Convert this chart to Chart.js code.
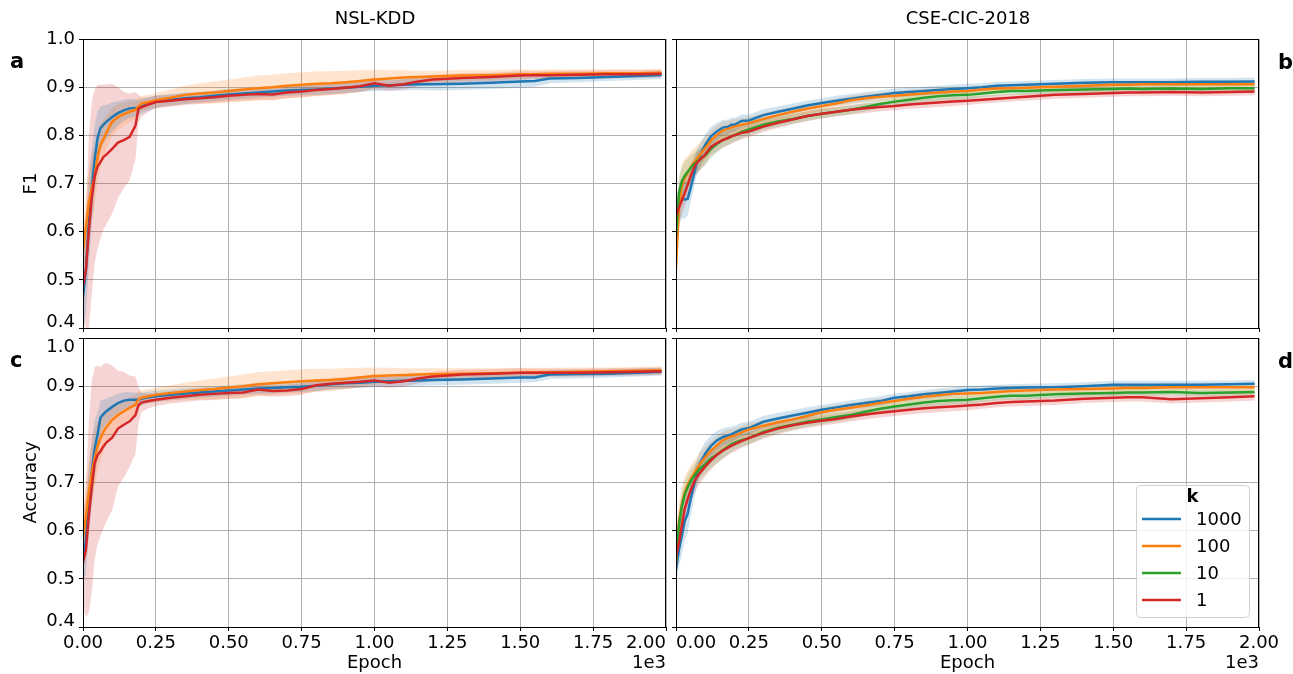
<!DOCTYPE html>
<html>
<head>
    <title>k sweep: F1 and accuracy per epoch</title>
    <script src="https://cdn.jsdelivr.net/npm/chart.js"></script>
    <style>
        body { margin: 0; background: #fff; font-family: 'DejaVu Sans', sans-serif; }
        #fig { position: relative; width: 1293px; height: 674px; overflow: hidden; }
        #fig canvas { position: absolute; }
        .head { position: absolute; font-size: 18px; line-height: 20px; text-align: center; width: 300px; }
        .tag { position: absolute; font-size: 21px; font-weight: bold; line-height: 24px; }
    </style>
</head>
<body>
<div id="fig">
    <canvas id="panelA" width="675" height="345" style="left:0;top:0"></canvas>
    <canvas id="panelB" width="625" height="345" style="left:668px;top:0"></canvas>
    <canvas id="panelC" width="675" height="352" style="left:0;top:322px"></canvas>
    <canvas id="panelD" width="625" height="352" style="left:668px;top:322px"></canvas>
    <div class="head" style="left:225px;top:8px">NSL-KDD</div>
    <div class="head" style="left:818px;top:8px">CSE-CIC-2018</div>
    <div class="tag" style="left:10px;top:49px">a</div>
    <div class="tag" style="left:1278px;top:50px">b</div>
    <div class="tag" style="left:10px;top:348px">c</div>
    <div class="tag" style="left:1278px;top:349px">d</div>
</div>

<script>
    // epochs at which the runs were sampled
    const epochs = [
        0, 10, 20, 30, 40, 50, 60, 70, 80,
        100, 120, 140, 160, 180, 190, 200,
        225, 250,
        300, 350, 400, 450, 500, 550, 600, 650, 700, 750, 800, 850, 900, 950, 1000,
        1050, 1100, 1150, 1200,
        1300, 1400, 1500, 1550, 1600, 1700, 1800, 1900, 1985
    ];
    const kValues = ['1000', '100', '10', '1'];
    const xTicks = [0, 250, 500, 750, 1000, 1250, 1500, 1750, 2000];
    const yTicks = [0.4, 0.5, 0.6, 0.7, 0.8, 0.9, 1.0];

    // ---- NSL-KDD, F1 ----
    const f1Nsl1000 = [
        0.465, 0.52, 0.62, 0.69, 0.75, 0.795, 0.815, 0.822, 0.828,
        0.838, 0.846, 0.852, 0.856, 0.857, 0.857, 0.860,
        0.865, 0.870,
        0.874, 0.877, 0.879, 0.882, 0.885, 0.887, 0.889, 0.891, 0.893, 0.894, 0.895, 0.897, 0.899, 0.901, 0.903,
        0.904, 0.905, 0.906, 0.906,
        0.907, 0.909, 0.912, 0.913, 0.918, 0.919, 0.921, 0.923, 0.925
    ];
    const f1Nsl1000Sd = [
        0.08, 0.09, 0.09, 0.08, 0.07, 0.055, 0.045, 0.04, 0.035,
        0.03, 0.025, 0.022, 0.02, 0.018, 0.016, 0.015,
        0.014, 0.013,
        0.012, 0.012, 0.011, 0.011, 0.011, 0.011, 0.011, 0.011, 0.011, 0.011, 0.011, 0.011, 0.011, 0.011, 0.011,
        0.011, 0.012, 0.012, 0.013,
        0.013, 0.013, 0.013, 0.012, 0.01, 0.009, 0.008, 0.008, 0.008
    ];
    const f1Nsl100 = [
        0.56, 0.61, 0.66, 0.69, 0.715, 0.755, 0.78, 0.792, 0.805,
        0.828, 0.838, 0.844, 0.849, 0.853, 0.860, 0.866,
        0.869, 0.873,
        0.878, 0.884, 0.887, 0.889, 0.892, 0.895, 0.898, 0.900, 0.903, 0.905, 0.907, 0.908, 0.910, 0.913, 0.916,
        0.918, 0.920, 0.921, 0.922,
        0.924, 0.925, 0.927, 0.927, 0.928, 0.928, 0.929, 0.929, 0.930
    ];
    const f1Nsl100Sd = [
        0.05, 0.06, 0.07, 0.07, 0.06, 0.05, 0.045, 0.04, 0.035,
        0.03, 0.027, 0.024, 0.022, 0.02, 0.018, 0.016,
        0.015, 0.015,
        0.017, 0.019, 0.021, 0.023, 0.024, 0.025, 0.026, 0.026, 0.026, 0.026, 0.026, 0.025, 0.024, 0.022, 0.02,
        0.017, 0.015, 0.013, 0.012,
        0.011, 0.01, 0.01, 0.009, 0.009, 0.009, 0.008, 0.008, 0.008
    ];
    const f1Nsl1 = [
        0.487, 0.52, 0.60, 0.67, 0.715, 0.735, 0.745, 0.755, 0.76,
        0.772, 0.785, 0.79, 0.797, 0.82, 0.855, 0.858,
        0.864, 0.869,
        0.872, 0.875, 0.877, 0.879, 0.882, 0.884, 0.886, 0.885, 0.889, 0.891, 0.894, 0.896, 0.899, 0.902, 0.908,
        0.903, 0.906, 0.912, 0.916,
        0.919, 0.921, 0.924, 0.925, 0.925, 0.926, 0.927, 0.927, 0.928
    ];
    const f1Nsl1Sd = [
        0.07, 0.12, 0.2, 0.2, 0.18, 0.17, 0.16, 0.15, 0.145,
        0.135, 0.115, 0.1, 0.09, 0.07, 0.03, 0.02,
        0.015, 0.013,
        0.012, 0.012, 0.012, 0.012, 0.012, 0.012, 0.012, 0.012, 0.012, 0.012, 0.012, 0.012, 0.012, 0.012, 0.012,
        0.011, 0.011, 0.01, 0.01,
        0.01, 0.009, 0.009, 0.008, 0.008, 0.008, 0.008, 0.008, 0.008
    ];

    // ---- NSL-KDD, accuracy ----
    const accNsl1000 = [
        0.54, 0.58, 0.66, 0.72, 0.77, 0.80, 0.835, 0.842, 0.848,
        0.857, 0.865, 0.870, 0.872, 0.872, 0.872, 0.874,
        0.877, 0.879,
        0.882, 0.885, 0.887, 0.889, 0.891, 0.893, 0.895, 0.896, 0.898, 0.899, 0.901, 0.904, 0.906, 0.907, 0.909,
        0.910, 0.911, 0.912, 0.913,
        0.914, 0.916, 0.918, 0.918, 0.924, 0.925, 0.926, 0.928, 0.930
    ];
    const accNsl1000Sd = [
        0.05, 0.07, 0.07, 0.07, 0.06, 0.045, 0.035, 0.03, 0.027,
        0.022, 0.02, 0.018, 0.016, 0.015, 0.014, 0.013,
        0.012, 0.012,
        0.011, 0.011, 0.011, 0.011, 0.011, 0.011, 0.011, 0.011, 0.011, 0.011, 0.011, 0.011, 0.011, 0.011, 0.011,
        0.011, 0.011, 0.011, 0.011,
        0.011, 0.011, 0.011, 0.01, 0.009, 0.009, 0.008, 0.008, 0.008
    ];
    const accNsl100 = [
        0.585, 0.63, 0.68, 0.72, 0.75, 0.775, 0.792, 0.805, 0.815,
        0.83, 0.84, 0.848, 0.855, 0.862, 0.872, 0.876,
        0.879, 0.882,
        0.886, 0.889, 0.892, 0.894, 0.897, 0.900, 0.904, 0.906, 0.908, 0.910, 0.912, 0.913, 0.915, 0.918, 0.921,
        0.922, 0.923, 0.924, 0.925,
        0.926, 0.927, 0.928, 0.929, 0.929, 0.930, 0.931, 0.932, 0.933
    ];
    const accNsl100Sd = [
        0.05, 0.06, 0.065, 0.065, 0.06, 0.05, 0.045, 0.04, 0.035,
        0.03, 0.027, 0.024, 0.022, 0.02, 0.018, 0.016,
        0.015, 0.015,
        0.016, 0.018, 0.02, 0.022, 0.023, 0.024, 0.025, 0.025, 0.025, 0.025, 0.024, 0.023, 0.022, 0.02, 0.018,
        0.016, 0.014, 0.013, 0.012,
        0.011, 0.01, 0.01, 0.009, 0.009, 0.009, 0.008, 0.008, 0.008
    ];
    const accNsl1 = [
        0.533, 0.56, 0.63, 0.69, 0.74, 0.757, 0.765, 0.775, 0.783,
        0.793, 0.812, 0.82, 0.827, 0.84, 0.86, 0.866,
        0.869, 0.872,
        0.876, 0.879, 0.882, 0.884, 0.886, 0.887, 0.893, 0.890, 0.891, 0.894, 0.902, 0.905, 0.907, 0.909, 0.912,
        0.907, 0.910, 0.916, 0.920,
        0.924, 0.926, 0.928, 0.928, 0.928, 0.928, 0.929, 0.930, 0.931
    ];
    const accNsl1Sd = [
        0.09, 0.14, 0.2, 0.22, 0.2, 0.185, 0.175, 0.17, 0.165,
        0.15, 0.12, 0.11, 0.095, 0.08, 0.04, 0.02,
        0.015, 0.013,
        0.012, 0.012, 0.012, 0.012, 0.012, 0.012, 0.012, 0.012, 0.012, 0.012, 0.012, 0.012, 0.012, 0.012, 0.012,
        0.011, 0.011, 0.01, 0.01,
        0.01, 0.009, 0.009, 0.008, 0.008, 0.008, 0.008, 0.008, 0.008
    ];

    // ---- CSE-CIC-2018, F1 ----
    const f1Cse1000 = [
        0.62, 0.655, 0.668, 0.667, 0.668, 0.69, 0.715, 0.74, 0.755,
        0.78, 0.798, 0.808, 0.816, 0.818, 0.822, 0.822,
        0.83, 0.831,
        0.842, 0.849, 0.855, 0.862, 0.867, 0.872, 0.876, 0.880, 0.884, 0.888, 0.890, 0.892, 0.894, 0.896, 0.898,
        0.900, 0.903, 0.904, 0.905,
        0.907, 0.909, 0.910, 0.910, 0.910, 0.910, 0.911, 0.911, 0.912
    ];
    const f1Cse1000Sd = [
        0.04, 0.04, 0.04, 0.04, 0.035, 0.03, 0.028, 0.026, 0.025,
        0.022, 0.02, 0.018, 0.016, 0.015, 0.015, 0.014,
        0.013, 0.012,
        0.012, 0.011, 0.011, 0.01, 0.01, 0.01, 0.01, 0.01, 0.009, 0.009, 0.009, 0.009, 0.009, 0.009, 0.009,
        0.008, 0.008, 0.008, 0.008,
        0.008, 0.008, 0.008, 0.008, 0.008, 0.008, 0.008, 0.008, 0.008
    ];
    const f1Cse100 = [
        0.525, 0.65, 0.695, 0.712, 0.722, 0.733, 0.742, 0.75, 0.758,
        0.773, 0.789, 0.801, 0.81, 0.814, 0.816, 0.818,
        0.822, 0.825,
        0.834, 0.842, 0.849, 0.855, 0.861, 0.866, 0.873, 0.877, 0.880, 0.882, 0.885, 0.887, 0.889, 0.891, 0.892,
        0.895, 0.897, 0.898, 0.899,
        0.901, 0.903, 0.905, 0.905, 0.906, 0.906, 0.906, 0.906, 0.906
    ];
    const f1Cse100Sd = [
        0.05, 0.05, 0.045, 0.04, 0.035, 0.033, 0.03, 0.028, 0.026,
        0.024, 0.022, 0.02, 0.018, 0.017, 0.016, 0.015,
        0.014, 0.013,
        0.012, 0.011, 0.011, 0.01, 0.01, 0.01, 0.009, 0.009, 0.009, 0.009, 0.009, 0.009, 0.009, 0.009, 0.009,
        0.008, 0.008, 0.008, 0.008,
        0.008, 0.008, 0.008, 0.008, 0.008, 0.008, 0.008, 0.008, 0.008
    ];
    const f1Cse10 = [
        0.59, 0.68, 0.705, 0.716, 0.724, 0.732, 0.739, 0.745, 0.75,
        0.758, 0.772, 0.782, 0.79, 0.795, 0.798, 0.80,
        0.807, 0.812,
        0.822, 0.829, 0.834, 0.84, 0.845, 0.849, 0.853, 0.859, 0.865, 0.870, 0.874, 0.878, 0.881, 0.883, 0.884,
        0.887, 0.890, 0.892, 0.892,
        0.894, 0.895, 0.896, 0.897, 0.896, 0.897, 0.896, 0.898, 0.898
    ];
    const f1Cse10Sd = [
        0.035, 0.035, 0.03, 0.03, 0.028, 0.026, 0.025, 0.024, 0.023,
        0.02, 0.019, 0.018, 0.016, 0.015, 0.015, 0.014,
        0.013, 0.012,
        0.011, 0.011, 0.01, 0.01, 0.01, 0.009, 0.009, 0.009, 0.009, 0.009, 0.009, 0.009, 0.009, 0.009, 0.009,
        0.008, 0.008, 0.008, 0.008,
        0.007, 0.007, 0.007, 0.007, 0.007, 0.007, 0.007, 0.007, 0.007
    ];
    const f1Cse1 = [
        0.632, 0.65, 0.665, 0.68, 0.697, 0.715, 0.73, 0.742, 0.748,
        0.76, 0.776, 0.784, 0.79, 0.795, 0.798, 0.80,
        0.805, 0.808,
        0.818, 0.826, 0.833, 0.84, 0.845, 0.849, 0.853, 0.856, 0.859, 0.861, 0.864, 0.866, 0.868, 0.870, 0.872,
        0.874, 0.876, 0.878, 0.880,
        0.884, 0.886, 0.888, 0.889, 0.889, 0.890, 0.889, 0.890, 0.891
    ];
    const f1Cse1Sd = [
        0.03, 0.03, 0.03, 0.028, 0.026, 0.025, 0.024, 0.023, 0.022,
        0.02, 0.018, 0.017, 0.016, 0.015, 0.015, 0.014,
        0.013, 0.012,
        0.011, 0.011, 0.01, 0.01, 0.01, 0.01, 0.01, 0.01, 0.009, 0.009, 0.009, 0.009, 0.009, 0.009, 0.009,
        0.008, 0.008, 0.008, 0.008,
        0.008, 0.008, 0.008, 0.008, 0.008, 0.008, 0.008, 0.008, 0.008
    ];

    // ---- CSE-CIC-2018, accuracy ----
    const accCse1000 = [
        0.518, 0.56, 0.59, 0.62, 0.635, 0.665, 0.69, 0.715, 0.737,
        0.76, 0.776, 0.787, 0.794, 0.798, 0.80, 0.803,
        0.81, 0.813,
        0.826, 0.833, 0.839, 0.845, 0.851, 0.856, 0.861, 0.865, 0.869, 0.876, 0.879, 0.883, 0.886, 0.889, 0.892,
        0.893, 0.895, 0.896, 0.897,
        0.898, 0.900, 0.903, 0.903, 0.903, 0.903, 0.903, 0.904, 0.905
    ];
    const accCse1000Sd = [
        0.03, 0.035, 0.04, 0.04, 0.04, 0.035, 0.03, 0.028, 0.026,
        0.024, 0.022, 0.02, 0.018, 0.017, 0.016, 0.015,
        0.014, 0.013,
        0.012, 0.012, 0.011, 0.011, 0.01, 0.01, 0.01, 0.01, 0.01, 0.009, 0.009, 0.009, 0.009, 0.009, 0.009,
        0.008, 0.008, 0.008, 0.008,
        0.008, 0.008, 0.008, 0.008, 0.008, 0.008, 0.008, 0.008, 0.008
    ];
    const accCse100 = [
        0.532, 0.62, 0.655, 0.68, 0.695, 0.707, 0.717, 0.727, 0.737,
        0.752, 0.766, 0.777, 0.787, 0.793, 0.795, 0.797,
        0.804, 0.81,
        0.818, 0.825, 0.831, 0.838, 0.846, 0.851, 0.855, 0.860, 0.865, 0.869, 0.874, 0.878, 0.881, 0.884, 0.885,
        0.886, 0.888, 0.890, 0.891,
        0.893, 0.894, 0.895, 0.896, 0.896, 0.898, 0.898, 0.898, 0.898
    ];
    const accCse100Sd = [
        0.04, 0.04, 0.035, 0.032, 0.03, 0.028, 0.026, 0.025, 0.024,
        0.022, 0.02, 0.019, 0.018, 0.017, 0.016, 0.015,
        0.014, 0.013,
        0.012, 0.011, 0.011, 0.01, 0.01, 0.01, 0.01, 0.009, 0.009, 0.009, 0.009, 0.009, 0.009, 0.009, 0.009,
        0.008, 0.008, 0.008, 0.008,
        0.008, 0.008, 0.008, 0.008, 0.008, 0.008, 0.008, 0.008, 0.008
    ];
    const accCse10 = [
        0.539, 0.61, 0.65, 0.675, 0.69, 0.702, 0.712, 0.72, 0.727,
        0.738, 0.75, 0.758, 0.767, 0.775, 0.779, 0.782,
        0.788, 0.792,
        0.805, 0.814, 0.82, 0.826, 0.831, 0.836, 0.84, 0.847, 0.853, 0.858, 0.862, 0.866, 0.869, 0.871, 0.872,
        0.875, 0.878, 0.880, 0.880,
        0.883, 0.885, 0.886, 0.887, 0.887, 0.888, 0.886, 0.887, 0.888
    ];
    const accCse10Sd = [
        0.03, 0.03, 0.03, 0.028, 0.026, 0.025, 0.024, 0.023, 0.022,
        0.02, 0.019, 0.018, 0.017, 0.016, 0.015, 0.015,
        0.014, 0.013,
        0.012, 0.011, 0.011, 0.01, 0.01, 0.01, 0.009, 0.009, 0.009, 0.009, 0.009, 0.009, 0.009, 0.009, 0.009,
        0.008, 0.008, 0.008, 0.008,
        0.007, 0.007, 0.007, 0.007, 0.007, 0.007, 0.007, 0.007, 0.007
    ];
    const accCse1 = [
        0.546, 0.575, 0.61, 0.645, 0.665, 0.683, 0.698, 0.71, 0.718,
        0.733, 0.746, 0.757, 0.766, 0.773, 0.776, 0.779,
        0.786, 0.792,
        0.803, 0.812, 0.819, 0.824, 0.828, 0.832, 0.837, 0.841, 0.845, 0.848, 0.851, 0.854, 0.856, 0.858, 0.860,
        0.862, 0.865, 0.867, 0.868,
        0.870, 0.874, 0.876, 0.877, 0.877, 0.873, 0.875, 0.877, 0.879
    ];
    const accCse1Sd = [
        0.03, 0.03, 0.03, 0.028, 0.026, 0.025, 0.024, 0.023, 0.022,
        0.02, 0.019, 0.018, 0.017, 0.016, 0.015, 0.015,
        0.014, 0.013,
        0.012, 0.012, 0.011, 0.011, 0.01, 0.01, 0.01, 0.01, 0.01, 0.01, 0.01, 0.01, 0.01, 0.01, 0.01,
        0.009, 0.009, 0.009, 0.009,
        0.009, 0.009, 0.009, 0.009, 0.009, 0.009, 0.009, 0.009, 0.009
    ];

    // tab10 colours, one per k
    const lineColor = { '1000': '#1f77b4', '100': '#ff7f0e', '10': '#2ca02c', '1': '#d62728' };
    const bandColor = {
        '1000': 'rgba(31,119,180,0.2)', '100': 'rgba(255,127,14,0.2)',
        '10': 'rgba(44,160,44,0.2)', '1': 'rgba(214,39,40,0.2)'
    };
    const lineOrder = { '1000': 4, '100': 3, '10': 2, '1': 1 };

    const FONT = "18px 'DejaVu Sans'";
    Chart.defaults.font.family = "'DejaVu Sans', sans-serif";
    Chart.defaults.font.size = 18;
    Chart.defaults.color = '#000';

    const fmtX = v => (v / 1000).toFixed(2);
    const fmtY = v => v.toFixed(1);

    // mean line plus a +/- one std band filled between two invisible lines
    function runDatasets(k, mean, sd) {
        const pts = (f) => epochs.map((x, i) => ({ x: x, y: f(i) }));
        const hidden = { borderWidth: 0, borderColor: 'transparent', pointRadius: 0, order: 10 };
        return [
            Object.assign({ data: pts(i => mean[i] + sd[i]), fill: '+1', backgroundColor: bandColor[k] }, hidden),
            Object.assign({ data: pts(i => mean[i] - sd[i]), fill: false }, hidden),
            {
                label: k, data: pts(i => mean[i]), fill: false, pointRadius: 0,
                borderColor: lineColor[k], borderWidth: 2.5, tension: 0, order: lineOrder[k]
            }
        ];
    }

    const frame = {
        id: 'frame',
        afterDatasetsDraw(chart) {
            const { ctx, chartArea: a } = chart;
            ctx.save();
            ctx.strokeStyle = '#000';
            ctx.lineWidth = 1;
            ctx.strokeRect(Math.round(a.left) + 0.5, Math.round(a.top) + 0.5,
                Math.round(a.right - a.left) - 1, Math.round(a.bottom - a.top));
            ctx.restore();
        }
    };

    const offsetText = {
        id: 'offsetText',
        afterDraw(chart) {
            const { ctx, chartArea: a } = chart;
            ctx.save();
            ctx.font = FONT;
            ctx.fillStyle = '#000';
            ctx.textAlign = 'right';
            ctx.textBaseline = 'middle';
            ctx.fillText('1e3', a.right, a.bottom + 36);
            ctx.restore();
        }
    };

    // tick labels at the panel edges are nudged inward so neighbouring panels don't collide
    function edgeLabels(edges) {
        return {
            id: 'edgeLabels',
            afterDraw(chart) {
                const { ctx, chartArea: a } = chart;
                ctx.save();
                ctx.font = FONT;
                ctx.fillStyle = '#000';
                edges.forEach(e => {
                    const scale = chart.scales[e.axis];
                    const p = scale.getPixelForValue(e.value);
                    if (e.axis === 'y') {
                        ctx.textAlign = 'right';
                        ctx.textBaseline = 'alphabetic';
                        ctx.fillText(fmtY(e.value), a.left - 8, e.place === 'above' ? p - 1 : p + 13.5);
                    } else {
                        let y = a.bottom + 6, base = 'top';
                        const items = scale.getLabelItems ? scale.getLabelItems() : [];
                        const ref = items.find(it => it.label && it.label !== '');
                        if (ref) { y = ref.options.translation[1]; base = ref.options.textBaseline; }
                        ctx.textAlign = e.place === 'left' ? 'right' : 'left';
                        ctx.textBaseline = base;
                        ctx.fillText(fmtX(e.value), p, y + (ref ? ref.textOffset : 0));
                    }
                });
                ctx.restore();
            }
        };
    }

    const kLegend = {
        id: 'kLegend',
        afterDraw(chart) {
            const { ctx, chartArea: a } = chart;
            const w = 113, h = 132;
            const x0 = Math.round(a.right) - 10 - w, y0 = Math.round(a.bottom) - 10 - h;
            ctx.save();
            ctx.beginPath();
            ctx.roundRect(x0 + 0.5, y0 + 0.5, w, h, 4);
            ctx.fillStyle = 'rgba(255,255,255,0.8)';
            ctx.fill();
            ctx.strokeStyle = '#d0d0d0';
            ctx.lineWidth = 1;
            ctx.stroke();

            ctx.fillStyle = '#000';
            ctx.textBaseline = 'middle';
            ctx.textAlign = 'center';
            ctx.font = "bold " + FONT;
            ctx.fillText('k', x0 + w / 2, y0 + 12);

            ctx.textAlign = 'left';
            ctx.font = FONT;
            chart.data.datasets.filter(d => d.label).forEach((d, i) => {
                const y = y0 + 34 + 27 * i;
                ctx.beginPath();
                ctx.moveTo(x0 + 6, y);
                ctx.lineTo(x0 + 45, y);
                ctx.strokeStyle = d.borderColor;
                ctx.lineWidth = 2.5;
                ctx.stroke();
                ctx.fillText(d.label, x0 + 60, y + 1);
            });
            ctx.restore();
        }
    };

    // keep every plot area the same size: no extra room for overhanging tick labels
    function noOverhang(s) {
        s.paddingLeft = 0;
        s.paddingRight = 0;
        s.paddingTop = 0;
        s.paddingBottom = 0;
    }

    function makePanel(id, runs, cfg) {
        const datasets = [];
        runs.forEach(r => datasets.push(...runDatasets(r[0], r[1], r[2])));
        const edges = cfg.edges || [];
        const isEdge = (axis, v) => edges.some(e => e.axis === axis && Math.abs(e.value - v) < 1e-9);
        const plugins = [frame, edgeLabels(edges)];
        if (cfg.bottom) plugins.push(offsetText);
        if (cfg.legend) plugins.push(kLegend);

        return new Chart(document.getElementById(id), {
            type: 'line',
            data: { datasets: datasets },
            options: {
                responsive: false,
                animation: false,
                events: [],
                layout: { padding: cfg.padding },
                plugins: { legend: { display: false }, tooltip: { enabled: false } },
                scales: {
                    x: {
                        type: 'linear', min: 0, max: 2000,
                        afterBuildTicks: s => { s.ticks = xTicks.map(v => ({ value: v })); },
                        afterFit: s => { s.height = cfg.xHeight; noOverhang(s); },
                        ticks: {
                            display: cfg.bottom, padding: 2, maxRotation: 0,
                            callback: v => isEdge('x', v) ? '' : fmtX(v)
                        },
                        grid: { color: '#b0b0b0', tickColor: '#000', tickLength: 4 },
                        border: { display: false },
                        title: { display: cfg.bottom, text: 'Epoch', padding: { top: 0, bottom: 0 } }
                    },
                    y: {
                        min: 0.4, max: 1.0,
                        afterBuildTicks: s => { s.ticks = yTicks.map(v => ({ value: v })); },
                        afterFit: s => { s.width = cfg.yWidth; noOverhang(s); },
                        ticks: { display: cfg.left, padding: 4, callback: v => isEdge('y', v) ? '' : fmtY(v) },
                        grid: { color: '#b0b0b0', tickColor: '#000', tickLength: 4 },
                        border: { display: false },
                        title: { display: !!cfg.yTitle, text: cfg.yTitle, padding: { top: 21, bottom: 0 } }
                    }
                }
            },
            plugins: plugins
        });
    }

    // top row: canvas 345 tall, plot area 39..328; bottom row: canvas from 322, plot area 338..627
    makePanel('panelA', [
        ['1000', f1Nsl1000, f1Nsl1000Sd],
        ['100', f1Nsl100, f1Nsl100Sd],
        ['1', f1Nsl1, f1Nsl1Sd]
    ], {
        padding: { top: 39, right: 9, left: 0, bottom: 0 }, xHeight: 17, yWidth: 83,
        left: true, bottom: false, yTitle: 'F1',
        edges: [{ axis: 'y', value: 0.4, place: 'above' }]
    });

    makePanel('panelB', [
        ['1000', f1Cse1000, f1Cse1000Sd],
        ['100', f1Cse100, f1Cse100Sd],
        ['10', f1Cse10, f1Cse10Sd],
        ['1', f1Cse1, f1Cse1Sd]
    ], { padding: { top: 39, right: 34, left: 0, bottom: 0 }, xHeight: 17, yWidth: 8, left: false, bottom: false });

    makePanel('panelC', [
        ['1000', accNsl1000, accNsl1000Sd],
        ['100', accNsl100, accNsl100Sd],
        ['1', accNsl1, accNsl1Sd]
    ], {
        padding: { top: 16, right: 9, left: 0, bottom: 0 }, xHeight: 47, yWidth: 83,
        left: true, bottom: true, yTitle: 'Accuracy',
        edges: [
            { axis: 'y', value: 0.4, place: 'above' },
            { axis: 'y', value: 1.0, place: 'below' },
            { axis: 'x', value: 2000, place: 'left' }
        ]
    });

    makePanel('panelD', [
        ['1000', accCse1000, accCse1000Sd],
        ['100', accCse100, accCse100Sd],
        ['10', accCse10, accCse10Sd],
        ['1', accCse1, accCse1Sd]
    ], {
        padding: { top: 16, right: 34, left: 0, bottom: 0 }, xHeight: 47, yWidth: 8,
        left: false, bottom: true, legend: true,
        edges: [{ axis: 'x', value: 0, place: 'right' }]
    });
</script>
</body>
</html>
